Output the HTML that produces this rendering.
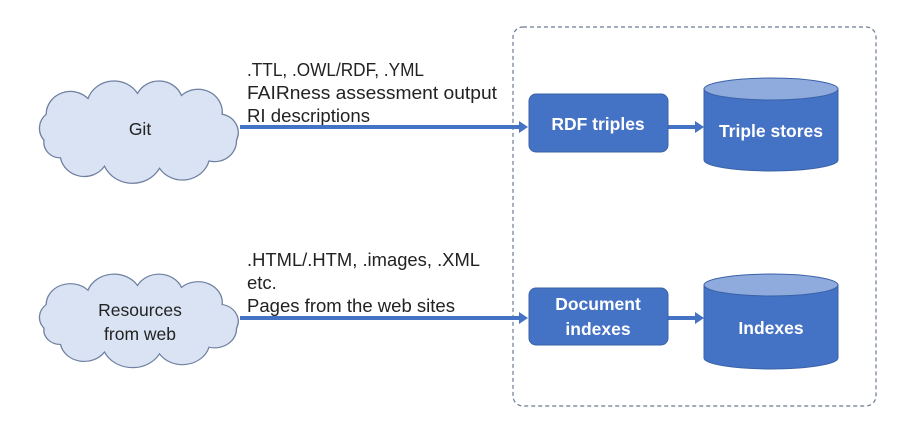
<!DOCTYPE html>
<html><head><style>
html,body{margin:0;padding:0;background:#fff;}
svg{display:block;}
text{font-family:"Liberation Sans",sans-serif;}
</style></head><body>
<svg width="911" height="430" viewBox="0 0 911 430" xmlns="http://www.w3.org/2000/svg">
<defs>
<path id="cloud" d="M20,55 A18,18 0 0 1 22,30 A22,22 0 0 1 60,15 A25,25 0 0 1 105,10 A22,22 0 0 1 145,12 A22,22 0 0 1 182,30 A18,18 0 0 1 195,55 A20,20 0 0 1 170,75 A25,25 0 0 1 125,82 A28,28 0 0 1 75,80 A22,22 0 0 1 35,72 A15,15 0 0 1 20,55 Z" fill="#dae3f3" stroke="#6f80a0" stroke-width="1.2"/>
</defs>
<rect x="513" y="27" width="363" height="379" rx="10" fill="none" stroke="#6a7a92" stroke-width="1.2" stroke-dasharray="4,3"/>
<use href="#cloud" transform="translate(22,83) scale(1.1,1.04)"/>
<use href="#cloud" transform="translate(22,276) scale(1.1,0.95)"/>
<text x="140" y="135" font-size="17.5" text-anchor="middle" fill="#222">Git</text>
<text x="140" y="316" font-size="17.5" text-anchor="middle" fill="#222">Resources</text>
<text x="140" y="340" font-size="17.5" text-anchor="middle" fill="#222">from web</text>
<g font-size="18.5" fill="#222">
<text x="247" y="76" textLength="177" lengthAdjust="spacingAndGlyphs">.TTL, .OWL/RDF, .YML</text>
<text x="247" y="99" textLength="250" lengthAdjust="spacingAndGlyphs">FAIRness assessment output</text>
<text x="247" y="122" textLength="123" lengthAdjust="spacingAndGlyphs">RI descriptions</text>
<text x="247" y="266" textLength="233" lengthAdjust="spacingAndGlyphs">.HTML/.HTM, .images, .XML</text>
<text x="247" y="289">etc.</text>
<text x="247" y="312" textLength="208" lengthAdjust="spacingAndGlyphs">Pages from the web sites</text>
</g>
<g fill="#4472c4" stroke="#3a62a8">
<rect x="240" y="125" width="281" height="4" stroke="none"/>
<polygon points="519,121 528,127 519,133" stroke="none"/>
<rect x="240" y="316" width="281" height="4" stroke="none"/>
<polygon points="519,312 528,318 519,324" stroke="none"/>
<rect x="668" y="125" width="28" height="4" stroke="none"/>
<polygon points="695,121 704,127 695,133" stroke="none"/>
<rect x="668" y="316" width="28" height="4" stroke="none"/>
<polygon points="695,312 704,318 695,324" stroke="none"/>
<rect x="529" y="94" width="139" height="58" rx="7"/>
<rect x="529" y="288" width="139" height="57" rx="7"/>
<path d="M704,89 L704,160 A67,11 0 0 0 838,160 L838,89 Z"/>
<ellipse cx="771" cy="89" rx="67" ry="11" fill="#8faadc"/>
<path d="M704,285 L704,358 A67,11 0 0 0 838,358 L838,285 Z"/>
<ellipse cx="771" cy="285" rx="67" ry="11" fill="#8faadc"/>
</g>
<g fill="#fff" font-size="17.5" font-weight="bold" text-anchor="middle">
<text x="598" y="130">RDF triples</text>
<text x="771" y="137">Triple stores</text>
<text x="598" y="310">Document</text>
<text x="598" y="335">indexes</text>
<text x="771" y="334">Indexes</text>
</g>
</svg>
</body></html>
